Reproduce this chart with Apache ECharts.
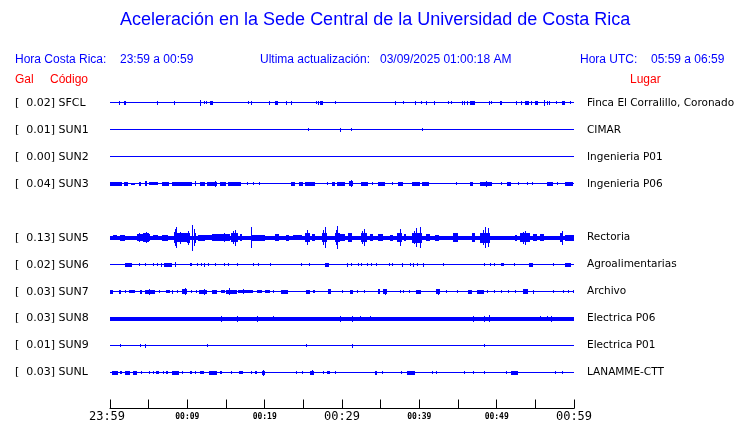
<!DOCTYPE html>
<html><head><meta charset="utf-8">
<script src="https://cdn.jsdelivr.net/npm/echarts@6/dist/echarts.min.js"></script>
<style>html,body{margin:0;padding:0;background:#fff}#c{width:740px;height:423px}</style>
</head><body><div id="c"></div>
<script>
// ---- data ----
const stations = ['SFCL','SUN1','SUN2','SUN3','SUN5','SUN6','SUN7','SUN8','SUN9','SUNL'];
const galPeak  = [0.02,0.01,0.00,0.04,0.13,0.02,0.03,0.03,0.01,0.03];
const places   = ['Finca El Corralillo, Coronado','CIMAR','Ingenieria P01','Ingenieria P06','Rectoria','Agroalimentarias','Archivo','Electrica P06','Electrica P01','LANAMME-CTT'];
const rowSlots = [0,1,2,3,5,6,7,8,9,10];          // SUN4 row is empty
const baseAmp  = [0.5,0.5,0.5,0.5,1.8,0.5,0.5,2.0,0.5,0.5];
const xTickLabels = ['23:59','','00:09','','00:19','','00:29','','00:39','','00:49','','00:59'];
const xMajorLabels = ['23:59','00:29','00:59'];
// events: [minute, amplitude] spikes or [startMinute, endMinute, amplitude] bursts (minutes after 23:59)
const evSFCL = [[1.2,1.5],[1.8,2.1,1.5],[6.1,1.5],[8.3,1.5],[11.7,2.5],[12.2,1],[12.4,1],[12.9,13.3,1.5],[17.9,1],[18.2,1.2],[20.6,1.5],[21.4,21.7,1.5],[22.7,1.2],[23.4,1.5],[26.6,1],[26.9,1.2],[27.2,27.6,1.5],[29.1,1],[36.8,1.5],[37.9,1],[39.5,1.5],[40.2,1],[40.9,1.2],[41.9,1.5],[43.7,1],[44.1,1],[45.5,1.5],[45.8,1.5],[46.1,1.5],[46.5,47.2,1.5],[49.0,1.5],[49.3,1],[50.4,50.7,1.2],[52.5,1.2],[53.1,1.2],[53.7,54.2,1.5],[54.5,1.2],[55.0,55.4,1.2],[56.1,2.5],[56.5,1.2],[56.8,1.2],[57.7,1],[58.5,58.9,1.5],[59.5,1]];
const evSUN1 = [[25.6,1],[29.7,1.2],[31.1,1],[40.4,1]];
const evSUN2 = [];
const evSUN3 = [[0,1.6,1.2],[1.85,2.3,1.2],[2.7,3.2,0.8],[3.7,4.0,1.2],[4.5,4.8,2],[5.1,6.2,1],[6.7,7.6,1.2],[8.0,10.6,1.2],[11.0,2],[11.6,12.3,1.2],[12.5,13.2,1.2],[13.2,13.9,1.6],[13.6,2.5],[14.2,15.0,1.2],[15.3,17.0,1.2],[17.7,1],[18.5,1],[19.3,1],[23.4,23.9,1.2],[24.4,25.0,1.2],[25.2,26.5,1.2],[28.1,1],[28.7,29.1,1.2],[29.3,30.4,1.2],[30.9,31.4,2],[31.1,3],[32.4,33.3,1.2],[33.9,1],[34.6,35.6,1.2],[36.5,1],[37.3,37.9,1.2],[39.0,40.1,1.2],[40.3,41.2,1.2],[44.8,1],[46.5,46.9,1.2],[47.8,49.4,1.2],[48.6,2.5],[50.6,1],[51.4,51.8,1.2],[52.8,1],[53.9,1],[54.6,1],[56.5,57.3,1.2],[57.8,1],[58.9,59.9,1.2]];
const evSUN5 = [[0.4,0.9,2],[1.3,1.9,2.3],[3.45,5.2,3],[3.8,4],[4.3,5.0,4],[4.6,5],[5.6,6.2,2],[6.7,7.5,2.5],[8.3,8.6,5],[8.35,8],[8.5,10],[8.6,9.9,4],[9.0,5.5],[9.9,10.3,4.5],[10.1,6.5],[10.6,12.3],[10.8,11.1,4.5],[10.9,8],[11.4,12.3,2.5],[12.3,13.2,2],[13.2,15.5,3],[14.7,4],[15.7,16.6,4],[15.9,6],[16.2,7.5],[16.8,17.1,3],[18.2,10],[18.3,20.0,2.5],[21.3,21.8,3],[22.8,23.1,2.5],[23.7,24.8,2],[25.2,25.9,4],[25.5,7],[26.1,26.5,3],[27.4,28.0,4],[27.6,7],[27.8,10],[29.1,29.7,4],[29.25,7],[29.4,11],[29.7,30.4,3],[30.8,31.3,4],[32.4,33.2,4],[32.6,6],[32.8,8],[33.6,34.0,3],[34.7,35.3,3],[36.2,36.6,2.5],[37.1,37.7,4],[37.5,8],[38.0,38.3,3],[39.0,40.3,4.5],[39.3,6],[39.6,9],[40.1,10],[40.9,41.4,3],[42.0,42.5,2.5],[44.4,45.0,4],[46.8,47.2,4],[47.8,49.1,4.5],[48.2,7],[48.5,10],[48.9,9],[52.4,52.6,2.5],[53.0,54.3,4],[53.4,5.5],[53.7,6.5],[54.7,55.2,3],[55.6,56.1,3],[58.2,58.6,4],[58.4,6.5],[58.8,60,2.5]];
const evSUN6 = [[1.9,2.8,1.5],[3.7,1],[4.5,1],[5.6,1],[6.1,1],[6.6,1.5],[7.0,8.0,1.5],[8.4,2],[10.3,10.6,1.2],[11.2,1],[11.8,1.2],[12.2,1.5],[12.7,1],[13.6,1.2],[14.7,1],[15.2,1],[16.4,1],[18.5,1.2],[19.2,1.2],[20.7,1.2],[24.7,1.2],[25.7,1.2],[27.8,28.3,1.5],[30.6,1.5],[31.2,1],[32.1,1],[32.5,1],[33.2,1],[33.7,1],[34.4,1],[36.1,1],[36.5,1],[37.7,1.5],[38.8,1],[39.2,1.5],[39.7,1],[40.5,1.5],[43.0,1],[48.4,1],[49.1,1],[49.7,1],[50.6,51.0,1],[52.3,1],[54.2,54.7,1.5],[57.3,1],[58.8,59.6,1.5]];
const evSUN7 = [[0,0.4,1.5],[1.1,1.4,1.5],[1.9,1],[2.5,3.2,1.2],[3.9,4.2,1.5],[4.5,5.8,1.5],[5.0,2.5],[6.3,1],[7.3,7.8,1.2],[8.0,1.5],[8.6,1],[9.3,10.0,2],[9.7,3],[10.5,1],[11.1,1.2],[11.5,12.5,1.5],[12.2,2.5],[13.2,13.8,1.5],[14.4,14.9,1.2],[15.0,16.4,1.5],[15.4,3],[16.6,18.5,1.2],[17.2,2],[19.0,19.6,1.2],[20.0,20.7,1.2],[21.1,1],[22.1,23.0,1.5],[25.4,25.9,1.5],[26.3,26.5,1.2],[28.2,28.6,2.2],[30.0,1],[31.0,31.4,1.5],[32.0,1],[32.8,1],[34.6,34.9,2],[35.3,35.8,2],[35.5,2.5],[37.5,1.2],[37.9,1],[38.7,1],[39.6,40.2,1.5],[42.2,42.7,1.8],[42.4,2.5],[43.5,1],[44.9,1],[46.3,46.8,1.5],[47.5,48.3,1.5],[48.7,1],[49.7,1.2],[50.6,1],[51.5,1],[52.4,1],[53.4,54.1,1.8],[54.7,1.5],[57.3,1],[58.6,1],[59.2,1],[59.9,1.2]];
const evSUN8 = [[14.4,2.5],[16.4,2.5],[19.0,2.5],[21.1,2.2],[29.7,2.5],[31.3,2.5],[32.3,2.2],[33.6,2.2],[46.9,2.5],[48.4,2.5],[49.0,3],[55.6,2.2],[56.5,2.2],[57.0,2.5]];
const evSUN9 = [[1.3,1],[3.9,1],[4.5,1.5],[12.6,1],[25.4,1],[31.3,1.5],[48.4,1]];
const evSUNL = [[0.2,1.0,1.5],[1.3,1.6,1],[2.0,2.6,1.5],[3.0,3.5,1.5],[4.0,1],[5.0,1],[5.5,1],[6.0,6.4,1.2],[6.8,1],[7.2,7.5,1.2],[8.0,8.9,1.5],[9.3,1],[10.3,10.6,1.2],[11.0,1],[11.7,12.2,1.2],[12.8,13.8,1.5],[14.2,14.5,1.2],[15.7,1],[16.7,17.2,1.2],[18.2,1],[18.7,19.0,1.2],[19.6,20.0,1.5],[19.8,2.5],[24.1,1],[24.8,1],[25.9,26.4,1.5],[26.1,2],[27.5,1],[28.1,28.4,1.2],[29.1,1.2],[34.3,34.5,1.5],[35.2,1],[37.6,37.8,1.2],[38.4,39.4,1.5],[41.7,1.2],[42.2,1.2],[45.8,1.2],[47.0,1],[48.4,1],[51.2,1],[51.8,52.8,1.5],[57.5,1.2],[58.5,1]];
const events = [evSFCL,evSUN1,evSUN2,evSUN3,evSUN5,evSUN6,evSUN7,evSUN8,evSUN9,evSUNL];

// ---- build ----
const PX_PER_SLOT = 27;   // axis units -> pixels (row spacing)
const STROKE_HALF = 0.5;  // half of the 1px trace stroke added around each event
const leftLabels = {}, rightLabels = {};
stations.forEach((s,i)=>{
  leftLabels[rowSlots[i]] = '[  ' + galPeak[i].toFixed(2) + '] ' + s;
  rightLabels[rowSlots[i]] = places[i];
});
const traceData = [];
stations.forEach((s,i)=>{
  const slot = rowSlots[i];
  traceData.push([slot, 0, 60, baseAmp[i], 0]);
  events[i].forEach(e=>{
    if (e.length === 2) traceData.push([slot, e[0], e[0], e[1], 1]);
    else traceData.push([slot, e[0], e[1], e[2], 1]);
  });
});

const chart = echarts.init(document.getElementById('c'), null, {renderer:'canvas'});
const BLUE = '#0000ff', RED = '#ff0000';
const F12 = '12px "Liberation Sans", Arial, sans-serif';
chart.setOption({
  animation:false,
  title:{text:'Aceleración en la Sede Central de la Universidad de Costa Rica', left:120, top:11, padding:0,
    textStyle:{color:BLUE, fontFamily:'Liberation Sans, Arial, sans-serif', fontSize:18, fontWeight:'normal'}},
  graphic:[
    {type:'text', left:15, top:54, style:{text:'Hora Costa Rica:', font:F12, fill:BLUE}},
    {type:'text', left:120, top:54, style:{text:'23:59 a 00:59', font:F12, fill:BLUE}},
    {type:'text', left:260, top:54, style:{text:'Ultima actualización:', font:F12, fill:BLUE}},
    {type:'text', left:380, top:54, style:{text:'03/09/2025 01:00:18 AM', font:F12, fill:BLUE}},
    {type:'text', left:580, top:54, style:{text:'Hora UTC:', font:F12, fill:BLUE}},
    {type:'text', left:651, top:54, style:{text:'05:59 a 06:59', font:F12, fill:BLUE}},
    {type:'text', left:15, top:74, style:{text:'Gal', font:F12, fill:RED}},
    {type:'text', left:50, top:74, style:{text:'Código', font:F12, fill:RED}},
    {type:'text', left:630, top:74, style:{text:'Lugar', font:F12, fill:RED}}
  ],
  grid:{left:110, right:166, top:76, bottom:14, containLabel:false},
  xAxis:{type:'value', min:0, max:60, interval:5,
    axisLine:{show:true, onZero:false, lineStyle:{color:'#000', width:1}},
    axisTick:{show:true, inside:true, length:9, lineStyle:{color:'#000'}},
    splitLine:{show:false},
    axisLabel:{show:true, margin:2, showMinLabel:true, showMaxLabel:true,
      formatter:function(v){ const i = Math.round(v/5); const s = xTickLabels[i] || ''; if(!s) return '';
        if (i === 0) return '{f|'+s+'}';
        return xMajorLabels.indexOf(s)>=0 ? '{b|'+s+'}' : '{s|'+s+'}'; },
      rich:{ b:{fontFamily:'DejaVu Sans Mono', fontSize:12, color:'#000', lineHeight:13},
             f:{fontFamily:'DejaVu Sans Mono', fontSize:12, color:'#000', lineHeight:13, padding:[0,6,0,0]},
             s:{fontFamily:'DejaVu Sans Mono', fontSize:8, fontWeight:'bold', color:'#000', lineHeight:13, padding:[0,0,1,0]} } }
  },
  yAxis:[
    {type:'value', position:'left', min:-1, max:11.3333, interval:1, inverse:true,
      axisLine:{show:false}, axisTick:{show:false}, splitLine:{show:false},
      axisLabel:{show:true, align:'left', margin:95, color:'#000', fontFamily:'DejaVu Sans', fontSize:11,
        formatter:function(v){ return leftLabels[v] || ''; }}},
    {type:'value', position:'right', min:-1, max:11.3333, interval:1, inverse:true,
      axisLine:{show:false}, axisTick:{show:false}, splitLine:{show:false},
      axisLabel:{show:true, align:'left', margin:13, color:'#000', fontFamily:'DejaVu Sans', fontSize:10.5,
        formatter:function(v){ return rightLabels[v] || ''; }}}
  ],
  series:[{
    type:'custom', xAxisIndex:0, yAxisIndex:0, data:traceData, encode:{x:[1,2], y:0},
    renderItem:function(params, api){
      const slot = api.value(0), t0 = api.value(1), t1 = api.value(2), a = api.value(3), isEv = api.value(4);
      const c = api.coord([t0, slot]);
      const pTop = api.coord([t0, slot - a/PX_PER_SLOT]);
      const pBot = api.coord([t1, slot + a/PX_PER_SLOT]);
      const cy = c[1];
      const ha = Math.abs(pBot[1] - pTop[1]) / 2 + (isEv ? STROKE_HALF : 0);
      let x0 = Math.round(pTop[0]), x1 = Math.round(pBot[0]);
      if (x1 - x0 < 1) x1 = x0 + 1;
      let top = Math.round(cy - ha), bot = Math.round(cy + ha);
      if (bot - top < 1) bot = top + 1;
      return {type:'rect', shape:{x:x0, y:top, width:x1-x0, height:bot-top}, style:{fill:BLUE}};
    }
  }]
});
</script></body></html>
